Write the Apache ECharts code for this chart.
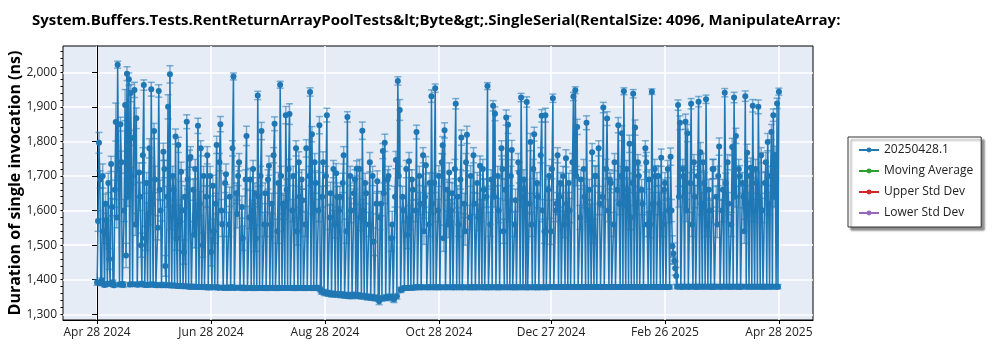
<!DOCTYPE html>
<html>
<head>
<meta charset="utf-8">
<script src="https://cdn.jsdelivr.net/npm/echarts@6/dist/echarts.min.js"></script>
<style>
  html, body { margin: 0; padding: 0; background: #ffffff; }
  #chart { width: 1000px; height: 350px; }
</style>
</head>
<body>
<div id="chart"></div>
<script>
// Benchmark run history: two runs per day (every 12 hours), starting on startDate.
const startDate = '2024-04-28';
const runSpacingDays = 0.5;
const chartTitle = 'System.Buffers.Tests.RentReturnArrayPoolTests&lt;Byte&gt;.SingleSerial(RentalSize: 4096, ManipulateArray:';
const yAxisTitle = 'Duration of single invocation (ns)';
const seriesNames = ['20250428.1', 'Moving Average', 'Upper Std Dev', 'Lower Std Dev'];
const seriesColors = ['#1f77b4', '#2ca02c', '#d62728', '#9467bd'];

// Tick dates on the time axis
const xTickDates = ['2024-04-28', '2024-06-28', '2024-08-28', '2024-10-28', '2024-12-27', '2025-02-26', '2025-04-28'];
const monthNames = ['Jan', 'Feb', 'Mar', 'Apr', 'May', 'Jun', 'Jul', 'Aug', 'Sep', 'Oct', 'Nov', 'Dec'];
// Value-axis ticks (major labelled, minor unlabelled)
const yMajorTicks = [1300, 1400, 1500, 1600, 1700, 1800, 1900, 2000];
const yMinorTicks = [1300, 1320, 1340, 1360, 1380, 1400, 1420, 1440, 1460, 1480, 1500, 1520, 1540, 1560, 1580,
  1600, 1620, 1640, 1660, 1680, 1700, 1720, 1740, 1760, 1780, 1800, 1820, 1840, 1860, 1880, 1900, 1920,
  1940, 1960, 1980, 2000, 2020, 2040, 2060];

// Mean duration per run (ns), ten days per row
const durations = [
  1392,1570,1796,1690,1390,1398,1700,1540,1385,1620,1572,1388,1680,1460,1388,1735,1610,1392,1384,1660,
  1856,1580,2022,1720,1386,1850,1740,1388,1385,1600,1905,1470,1996,1640,1980,1386,1940,1700,1387,1810,
  1949,1560,1867,1386,1386,1710,1640,1500,1388,1760,1963,1385,1520,1680,1385,1590,1780,1386,1951,1620,
  1386,1830,1690,1385,1384,1550,1946,1660,1600,1384,1385,1770,1720,1440,1384,1640,1900,1384,1994,1580,
  1383,1700,1660,1383,1814,1520,1382,1790,1570,1382,1712,1600,1381,1480,1640,1381,1857,1690,1380,1750,
  1755,1380,1380,1660,1530,1720,1379,1590,1845,1379,1620,1780,1379,1500,1700,1379,1378,1640,1760,1378,
  1378,1700,1480,1378,1672,1540,1378,1620,1790,1378,1377,1740,1850,1600,1560,1377,1377,1680,1705,1377,
  1377,1560,1640,1377,1378,1780,1988,1377,1377,1650,1590,1700,1740,1377,1377,1610,1520,1377,1376,1690,
  1816,1376,1376,1580,1690,1376,1600,1720,1376,1650,1520,1376,1933,1640,1376,1700,1830,1376,1376,1560,
  1650,1376,1376,1690,1730,1376,1560,1620,1376,1760,1851,1376,1376,1540,1680,1376,1964,1700,1376,1620,
  1610,1376,1876,1660,1376,1720,1879,1376,1376,1600,1700,1376,1376,1780,1540,1376,1740,1640,1376,1690,
  1630,1376,1376,1560,1780,1376,1376,1700,1943,1376,1821,1620,1376,1740,1680,1376,1377,1600,1847,1372,
  1366,1640,1740,1364,1362,1700,1876,1361,1360,1580,1650,1359,1358,1720,1560,1358,1708,1640,1357,1600,
  1640,1357,1356,1680,1760,1355,1355,1540,1871,1354,1354,1700,1600,1353,1356,1650,1690,1355,1722,1354,
  1354,1720,1580,1352,1831,1600,1352,1680,1650,1350,1350,1560,1740,1349,1349,1700,1510,1348,1347,1620,
  1685,1345,1338,1580,1620,1346,1772,1650,1796,1348,1348,1690,1700,1350,1350,1520,1560,1345,1344,1640,
  1746,1352,1975,1700,1891,1370,1372,1640,1600,1376,1376,1720,1530,1376,1743,1580,1377,1690,1660,1377,
  1378,1600,1827,1378,1378,1700,1620,1378,1378,1760,1540,1640,1731,1378,1378,1560,1680,1378,1931,1620,
  1378,1680,1954,1378,1378,1600,1700,1378,1378,1740,1789,1520,1832,1378,1378,1660,1560,1710,1378,1600,
  1650,1378,1378,1720,1909,1378,1640,1560,1378,1690,1811,1378,1378,1620,1540,1740,1819,1378,1378,1580,
  1700,1378,1378,1760,1620,1378,1378,1680,1580,1378,1730,1600,1378,1720,1660,1378,1378,1640,1960,1378,
  1378,1560,1690,1378,1903,1640,1880,1378,1378,1700,1600,1378,1378,1780,1720,1540,1378,1660,1869,1378,
  1848,1600,1378,1700,1775,1378,1378,1560,1630,1378,1378,1740,1710,1378,1927,1640,1378,1690,1660,1378,
  1914,1378,1378,1620,1798,1560,1378,1720,1821,1378,1378,1680,1640,1378,1378,1760,1874,1600,1378,1540,
  1876,1378,1378,1660,1700,1379,1540,1720,1925,1379,1379,1600,1620,1760,1379,1640,1680,1379,1379,1700,
  1560,1379,1751,1620,1379,1680,1600,1379,1379,1740,1930,1379,1948,1700,1842,1379,1379,1580,1690,1379,
  1379,1720,1640,1379,1854,1600,1379,1660,1580,1379,1769,1540,1379,1700,1700,1379,1379,1780,1620,1379,
  1379,1640,1898,1379,1379,1720,1866,1600,1379,1690,1680,1379,1379,1560,1740,1379,1379,1660,1847,1620,
  1379,1700,1824,1379,1945,1640,1379,1720,1660,1379,1793,1580,1379,1680,1938,1379,1840,1620,1379,1740,
  1700,1379,1379,1660,1620,1379,1379,1780,1740,1560,1379,1690,1560,1379,1944,1620,1379,1720,1700,1379,
  1379,1700,1620,1379,1753,1560,1379,1660,1680,1379,1379,1720,1600,1379,1756,1600,1497,1476,1455,1433,
  1411,1380,1905,1640,1854,1380,1380,1720,1700,1380,1857,1600,1824,1380,1380,1680,1909,1560,1380,1740,
  1640,1380,1380,1700,1915,1380,1769,1620,1380,1740,1680,1380,1922,1560,1380,1660,1600,1380,1380,1720,
  1720,1380,1380,1640,1560,1700,1785,1380,1380,1600,1660,1380,1941,1680,1380,1740,1620,1380,1380,1560,
  1784,1380,1927,1640,1816,1380,1380,1720,1700,1380,1380,1680,1640,1540,1931,1380,1767,1620,1380,1700,
  1724,1380,1903,1600,1380,1720,1680,1380,1900,1640,1380,1760,1600,1380,1380,1680,1740,1380,1798,1620,
  1380,1700,1827,1380,1876,1640,1761,1380,1910,1380,1944
];

// Standard deviation per run (ns), drawn as error bars
const stdDevs = [
  8,30,30,25,7,7,35,35,6,28,40,6,28,30,7,22,25,7,6,28,
  55,30,10,25,6,20,32,6,7,32,45,35,20,28,18,6,25,25,6,22,
  22,32,30,6,6,28,40,35,7,22,15,6,35,30,6,32,28,6,20,30,
  7,22,38,6,6,35,18,28,30,6,7,25,25,30,6,30,35,6,25,35,
  6,28,30,6,22,35,6,22,45,6,28,32,6,35,32,6,20,28,6,25,
  30,6,7,30,38,28,6,32,22,6,35,22,6,35,28,6,6,30,25,6,
  7,28,40,6,30,35,6,30,25,6,6,25,22,32,35,6,6,28,30,6,
  6,35,28,6,7,22,10,6,6,30,40,28,25,6,6,32,35,6,7,28,
  28,6,6,32,32,6,30,25,7,30,38,6,12,30,6,28,25,6,6,35,
  30,6,7,28,28,6,35,30,6,22,20,6,7,35,30,6,10,28,6,30,
  35,6,25,30,6,28,30,6,6,32,28,6,7,22,40,6,30,30,6,28,
  32,6,7,35,25,6,6,28,12,6,22,30,7,25,30,6,6,32,25,7,
  8,30,30,8,8,28,20,8,8,35,32,8,8,25,40,8,28,30,8,32,
  30,8,8,28,25,8,8,35,15,8,8,28,35,8,8,30,28,8,22,8,
  8,28,38,8,25,32,8,28,30,8,8,35,28,8,8,28,40,8,8,30,
  30,8,10,35,35,8,22,30,25,8,8,28,28,8,8,38,38,8,10,30,
  25,8,12,28,30,7,7,30,35,6,6,25,40,6,25,35,6,28,30,6,
  6,32,20,6,6,28,32,6,6,22,38,30,25,6,6,35,30,6,18,30,
  6,28,12,6,6,32,30,6,6,25,25,38,22,6,6,30,38,28,6,32,
  30,6,6,28,15,6,32,35,6,28,22,6,6,30,40,25,25,6,6,35,
  30,6,6,22,32,6,6,30,38,6,28,32,6,28,30,6,6,30,10,6,
  6,35,28,6,15,30,20,6,6,28,35,6,6,22,28,35,6,30,22,6,
  25,32,6,28,28,6,6,35,32,6,6,25,30,6,12,30,6,28,30,6,
  15,6,6,30,25,35,6,28,20,6,6,30,32,6,6,22,18,32,6,35,
  20,6,6,30,30,6,38,28,12,6,6,32,32,22,6,30,30,6,6,28,
  38,6,25,32,6,28,35,6,6,25,12,6,10,28,22,6,6,35,28,6,
  6,28,32,6,20,32,6,30,38,6,25,35,6,28,30,6,6,22,32,6,
  6,30,15,6,6,28,20,32,6,28,28,6,6,35,25,6,6,30,22,32,
  6,28,22,6,10,30,6,25,30,6,25,35,6,28,12,6,22,32,6,22,
  30,6,6,30,32,6,6,22,28,35,6,28,38,6,8,32,6,28,30,6,
  6,28,32,6,25,35,6,30,30,6,6,25,35,6,25,32,30,30,10,20,
  25,6,15,30,20,6,6,28,30,6,22,32,25,6,6,30,15,35,6,22,
  32,6,6,28,15,6,28,32,6,25,30,6,12,35,6,30,35,6,6,28,
  28,6,6,30,38,28,25,6,6,32,30,6,12,28,6,22,32,6,6,35,
  25,6,15,30,22,6,6,28,30,6,6,30,32,35,15,6,25,32,6,28,
  28,6,18,32,6,28,30,6,20,30,6,22,35,6,6,30,28,6,25,32,
  6,28,22,6,18,30,25,6,15,6,10
];

const DAY_MS = 86400000;
const startMs = Date.parse(startDate + 'T00:00:00Z');
const dayOf = iso => (Date.parse(iso + 'T00:00:00Z') - startMs) / DAY_MS;
const xTickDays = xTickDates.map(dayOf);
const xTickText = {};
xTickDates.forEach(iso => {
  const d = new Date(iso + 'T00:00:00Z');
  xTickText[dayOf(iso)] = monthNames[d.getUTCMonth()] + ' ' + d.getUTCDate() + ' ' + d.getUTCFullYear();
});

const n = Math.min(durations.length, stdDevs.length);
const points = [];
const bars = [];
for (let i = 0; i < n; i++) {
  const day = i * runSpacingDays;
  points.push([day, durations[i]]);
  bars.push([day, durations[i] - stdDevs[i], durations[i] + stdDevs[i]]);
}

const FONT = '"Open Sans", "Noto Sans", sans-serif';
const chart = echarts.init(document.getElementById('chart'), null, { renderer: 'canvas' });

chart.setOption({
  animation: false,
  backgroundColor: '#ffffff',
  title: {
    text: chartTitle,
    left: 27, top: 8,
    textStyle: { fontFamily: FONT, fontSize: 15, fontWeight: 'bold', color: '#000' }
  },
  graphic: [{
    type: 'text',
    x: 15, y: 183,
    rotation: Math.PI / 2,
    style: {
      text: yAxisTitle,
      font: 'bold 16px ' + FONT,
      fill: '#000',
      textAlign: 'center',
      textVerticalAlign: 'middle'
    }
  }],
  legend: {
    data: seriesNames,
    orient: 'vertical',
    left: 848, top: 137,
    backgroundColor: '#ffffff',
    borderColor: '#333333',
    borderWidth: 1,
    shadowColor: 'rgba(0,0,0,0.45)',
    shadowBlur: 2,
    shadowOffsetX: 3,
    shadowOffsetY: 3,
    padding: [6, 8, 7, 10],
    itemWidth: 20,
    itemHeight: 6,
    itemGap: 7,
    selectedMode: false,
    textStyle: { fontFamily: FONT, fontSize: 12, color: '#222', lineHeight: 14 }
  },
  grid: {
    left: 63, right: 187, top: 46, bottom: 30,
    show: true,
    backgroundColor: '#E5ECF6',
    borderColor: '#000',
    borderWidth: 1
  },
  xAxis: {
    type: 'value',
    min: -18.25, max: 383.25,
    axisLine: { show: true, lineStyle: { color: '#000' } },
    axisTick: { show: true, customValues: xTickDays, length: 4, lineStyle: { color: '#000' } },
    axisLabel: {
      customValues: xTickDays, margin: 7,
      fontFamily: FONT, fontSize: 12, color: '#222',
      formatter: v => xTickText[v] || ''
    },
    splitLine: { show: true, lineStyle: { color: '#ffffff', width: 1.5 } }
  },
  yAxis: [{
    type: 'value',
    min: 1283.5, max: 2076,
    axisLine: { show: true, lineStyle: { color: '#000' } },
    axisTick: { show: true, customValues: yMajorTicks, length: 5, lineStyle: { color: '#000' } },
    axisLabel: {
      customValues: yMajorTicks, margin: 6,
      fontFamily: FONT, fontSize: 12, color: '#222',
      formatter: v => v.toLocaleString('en-US')
    },
    splitLine: { show: true, lineStyle: { color: '#ffffff', width: 1.5 } }
  }, {
    type: 'value',
    min: 1283.5, max: 2076,
    position: 'left',
    axisLine: { show: false },
    axisTick: { show: true, customValues: yMinorTicks, length: 2.5, lineStyle: { color: '#000' } },
    axisLabel: { show: false },
    splitLine: { show: false }
  }],
  series: [
    {
      type: 'custom',
      name: 'stddev',
      data: bars,
      encode: { x: 0, y: [1, 2] },
      silent: true,
      z: 1,
      renderItem: (params, api) => {
        const x = api.value(0);
        const lo = api.coord([x, api.value(1)]);
        const hi = api.coord([x, api.value(2)]);
        const hw = 3.5;
        const style = { stroke: 'rgba(31,119,180,0.55)', lineWidth: 1.5 };
        return {
          type: 'group',
          children: [
            { type: 'line', shape: { x1: lo[0], y1: lo[1], x2: hi[0], y2: hi[1] }, style },
            { type: 'line', shape: { x1: lo[0] - hw, y1: lo[1], x2: lo[0] + hw, y2: lo[1] }, style },
            { type: 'line', shape: { x1: hi[0] - hw, y1: hi[1], x2: hi[0] + hw, y2: hi[1] }, style }
          ]
        };
      }
    },
    {
      type: 'line',
      name: seriesNames[0],
      data: points,
      z: 2,
      symbol: 'circle',
      symbolSize: 6,
      color: seriesColors[0],
      lineStyle: { color: seriesColors[0], width: 1.5 },
      itemStyle: { color: seriesColors[0] },
      sampling: null
    },
    { type: 'line', name: seriesNames[1], data: [], symbol: 'circle', color: seriesColors[1], lineStyle: { width: 1.5 } },
    { type: 'line', name: seriesNames[2], data: [], symbol: 'circle', color: seriesColors[2], lineStyle: { width: 1.5 } },
    { type: 'line', name: seriesNames[3], data: [], symbol: 'circle', color: seriesColors[3], lineStyle: { width: 1.5 } }
  ]
});
</script>
</body>
</html>
